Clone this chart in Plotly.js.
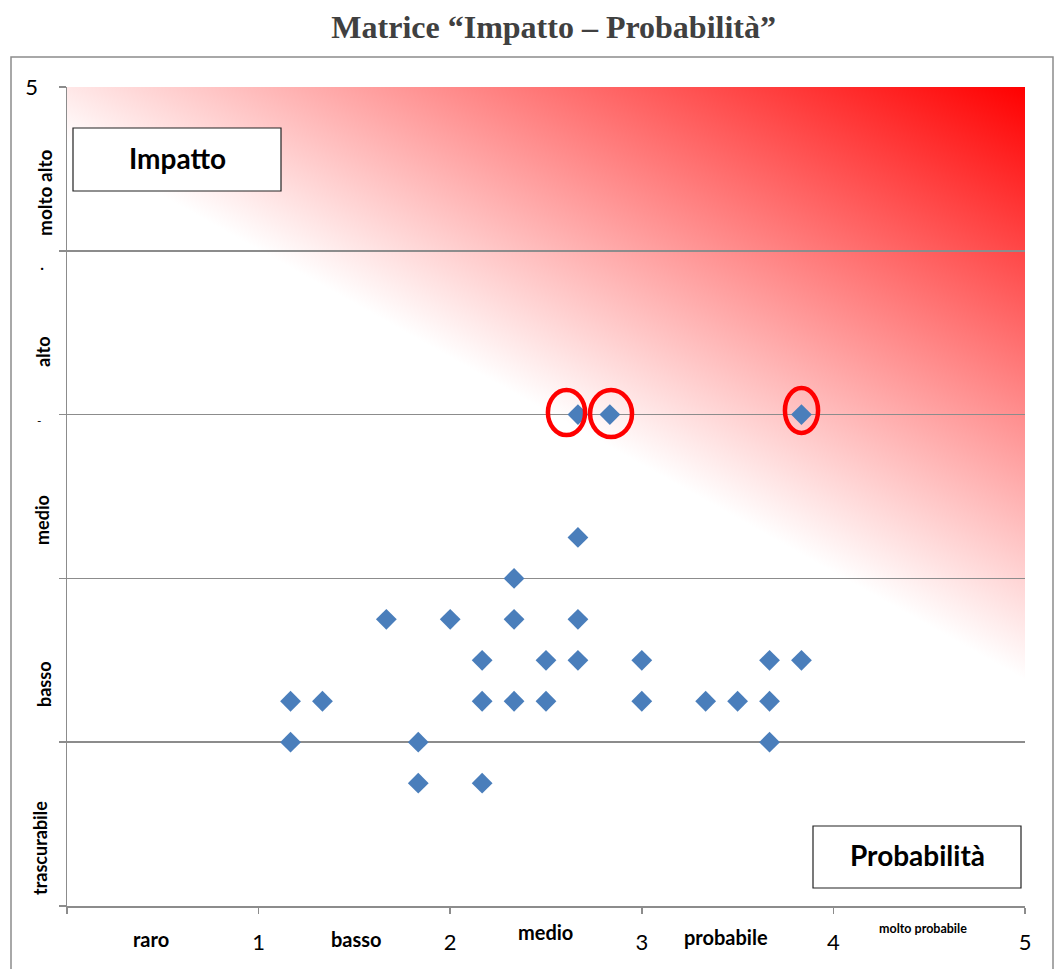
<!DOCTYPE html>
<html>
<head>
<meta charset="utf-8">
<script src="https://cdn.plot.ly/plotly-3.0.1.min.js"></script>
<style>html,body{margin:0;padding:0;background:#fff;}#chart{width:1064px;height:969px;}</style>
</head>
<body>
<div id="chart"></div>
<script>
// Data (probabilità, impatto)
const probabilita = [1.1667, 1.1667, 1.3333, 1.6667, 1.8333, 1.8333, 2.0, 2.1667, 2.1667, 2.1667,
                     2.3333, 2.3333, 2.3333, 2.5, 2.5, 2.6667, 2.6667, 2.6667, 2.6667, 2.8333,
                     3.0, 3.0, 3.3333, 3.5, 3.6667, 3.6667, 3.6667, 3.8333, 3.8333];
const impatto     = [1.25, 1.0, 1.25, 1.75, 1.0, 0.75, 1.75, 1.5, 1.25, 0.75,
                     2.0, 1.75, 1.25, 1.5, 1.25, 3.0, 2.25, 1.75, 1.5, 3.0,
                     1.5, 1.25, 1.25, 1.25, 1.5, 1.25, 1.0, 3.0, 1.5];
const xTickVals = [0, 1, 2, 3, 4, 5];
const xTickText = ['', '1', '2', '3', '4', '5'];
const yTickVals = [0, 1, 2, 3, 4, 5];
const yTickText = ['', '', '', '', '', '5'];
const probLabels = ['raro', 'basso', 'medio', 'probabile', 'molto probabile'];
const impLabels = ['trascurabile', 'basso', 'medio', 'alto', 'molto alto'];

const gradSvg = '<svg xmlns="http://www.w3.org/2000/svg" width="958" height="819" viewBox="0 0 958 819" preserveAspectRatio="none">' +
  '<defs><linearGradient id="g" gradientUnits="userSpaceOnUse" x1="705" y1="451" x2="958" y2="0">' +
  '<stop offset="0" stop-color="#ffffff"/><stop offset="1" stop-color="#ff0000"/></linearGradient></defs>' +
  '<rect x="0" y="0" width="958" height="819" fill="url(#g)"/></svg>';
const gradSrc = 'data:image/svg+xml;charset=utf-8,' + encodeURIComponent(gradSvg);

const W = 1064, H = 969, L = 67, R = 39, T = 87, B = 63;
const pw = W - L - R, ph = H - T - B;
function px(xp) { return (xp - L) / pw; }
function py(yp) { return (H - B - yp) / ph; }

const FF = 'Lato, Carlito, sans-serif';
const annotations = [];
// x category labels
const xCatPos = [[151, 939, 20], [356, 939, 20], [545, 932, 20], [726, 937, 20], [923, 929, 12.5]];
probLabels.forEach((t, i) => {
  annotations.push({text: '<b>' + t + '</b>', xref: 'paper', yref: 'paper', x: px(xCatPos[i][0]), y: py(xCatPos[i][1]),
    xanchor: 'center', yanchor: 'middle', showarrow: false,
    font: {family: FF, size: xCatPos[i][2], color: '#000'}});
});
// y category labels
const yCatPos = [[40, 848, 18], [44, 684, 18], [42, 520, 18], [43, 352, 18], [44, 193, 19]];
impLabels.forEach((t, i) => {
  annotations.push({text: '<b>' + t + '</b>', xref: 'paper', yref: 'paper', x: px(yCatPos[i][0]), y: py(yCatPos[i][1]),
    xanchor: 'center', yanchor: 'middle', showarrow: false, textangle: -90,
    font: {family: FF, size: yCatPos[i][2], color: '#000'}});
});
// small marks near y ticks
annotations.push({text: '-', xref: 'paper', yref: 'paper', x: px(35), y: py(420), showarrow: false,
  font: {family: FF, size: 12, color: '#000'}});
annotations.push({text: '·', xref: 'paper', yref: 'paper', x: px(38), y: py(255), showarrow: false,
  font: {family: FF, size: 16, color: '#000'}});
// boxes
annotations.push({text: '<b>Impatto</b>', xref: 'paper', yref: 'paper', x: px(177), y: py(158), showarrow: false,
  xanchor: 'center', yanchor: 'middle', font: {family: FF, size: 28, color: '#000'}});
annotations.push({text: '<b>Probabilità</b>', xref: 'paper', yref: 'paper', x: px(917), y: py(855), showarrow: false,
  xanchor: 'center', yanchor: 'middle', font: {family: FF, size: 28, color: '#000'}});

const shapes = [
  {type: 'rect', xref: 'paper', yref: 'paper', x0: px(11), x1: px(1053), y0: py(975), y1: py(57),
   line: {color: '#8c8c8c', width: 1.5}, fillcolor: 'rgba(0,0,0,0)', layer: 'below'},
  {type: 'rect', xref: 'paper', yref: 'paper', x0: px(73), x1: px(281), y0: py(191), y1: py(128),
   line: {color: '#222', width: 1.2}, fillcolor: '#ffffff'},
  {type: 'rect', xref: 'paper', yref: 'paper', x0: px(813), x1: px(1021), y0: py(888), y1: py(826),
   line: {color: '#222', width: 1.2}, fillcolor: '#ffffff'},
  {type: 'circle', xref: 'x', yref: 'y', x0: 2.510, x1: 2.704, y0: 2.875, y1: 3.150, line: {color: '#ff0000', width: 4.5}},
  {type: 'circle', xref: 'x', yref: 'y', x0: 2.730, x1: 2.949, y0: 2.863, y1: 3.150, line: {color: '#ff0000', width: 4.5}},
  {type: 'circle', xref: 'x', yref: 'y', x0: 3.747, x1: 3.920, y0: 2.888, y1: 3.162, line: {color: '#ff0000', width: 4.5}}
];

const trace = {
  x: probabilita, y: impatto, type: 'scatter', mode: 'markers',
  marker: {symbol: 'diamond', size: 16, color: '#4a7ebb', line: {width: 0}},
  hoverinfo: 'x+y'
};

const layout = {
  width: W, height: H,
  margin: {l: L, r: R, t: T, b: B},
  paper_bgcolor: '#ffffff', plot_bgcolor: 'rgba(0,0,0,0)',
  showlegend: false,
  title: {text: '<b>Matrice “Impatto – Probabilità”</b>', x: 0.508, xref: 'paper', xanchor: 'center',
    y: 1 - 27 / H, yanchor: 'middle', yref: 'container',
    font: {family: '"Liberation Serif", "Times New Roman", serif', size: 32, color: '#404040'}},
  xaxis: {range: [0, 5], tickvals: xTickVals, ticktext: xTickText, showgrid: false, zeroline: false,
    showline: true, linecolor: '#8c8c8c', linewidth: 1.5, ticks: 'outside', ticklen: 6, tickwidth: 1.5,
    tickcolor: '#8c8c8c', ticklabelstandoff: 10,
    tickfont: {family: FF, size: 22, color: '#000'}, fixedrange: true},
  yaxis: {range: [0, 5], tickvals: yTickVals, ticktext: yTickText, showgrid: true, gridcolor: '#8c8c8c',
    gridwidth: 1.5, zeroline: false, showline: true, linecolor: '#8c8c8c', linewidth: 1.5,
    ticks: 'outside', ticklen: 7, tickwidth: 1.5, tickcolor: '#8c8c8c', ticklabelstandoff: 16,
    tickfont: {family: FF, size: 22, color: '#000'}, fixedrange: true},
  images: [{source: gradSrc, xref: 'x', yref: 'y', x: 0, y: 5, sizex: 5, sizey: 5,
    sizing: 'stretch', xanchor: 'left', yanchor: 'top', layer: 'below'}],
  shapes: shapes,
  annotations: annotations
};

Plotly.newPlot('chart', [trace], layout, {displayModeBar: false, staticPlot: true});
</script>
</body>
</html>
